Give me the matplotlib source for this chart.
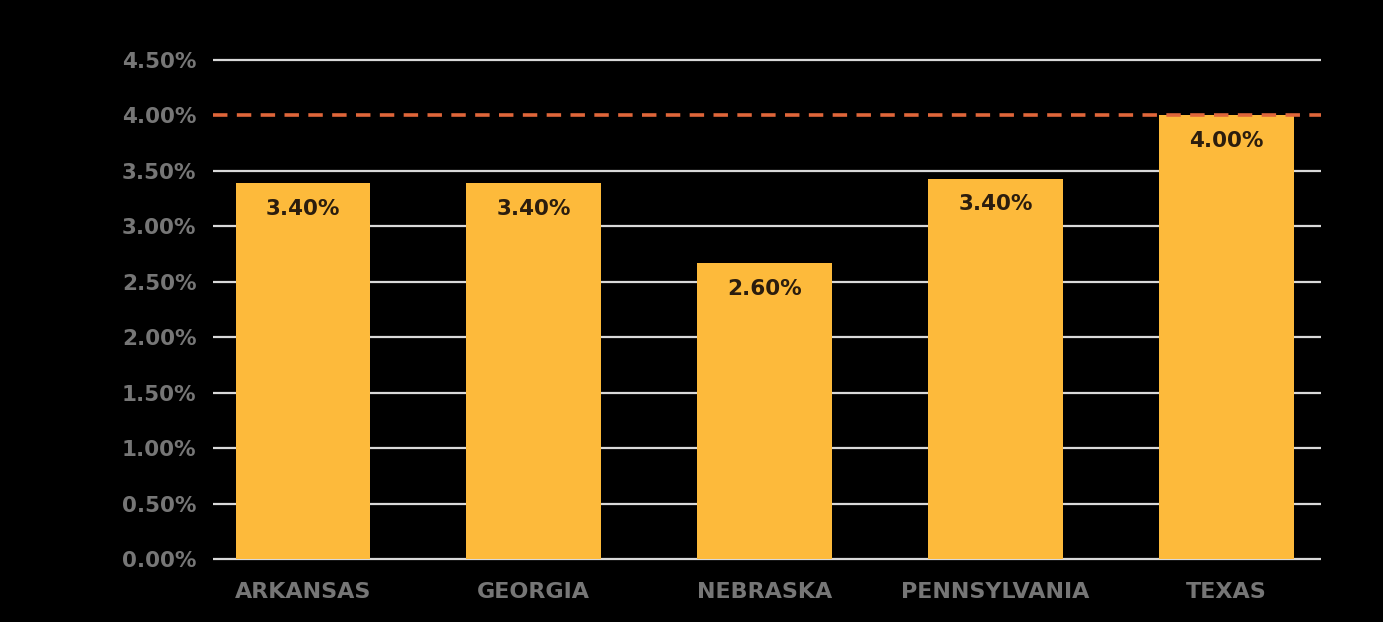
import matplotlib
matplotlib.use("Agg")
import matplotlib.pyplot as plt

# Data
states = ["ARKANSAS", "GEORGIA", "NEBRASKA", "PENNSYLVANIA", "TEXAS"]
bar_heights = [3.39, 3.39, 2.67, 3.43, 4.00]  # as drawn, in percent
value_labels = ["3.40%", "3.40%", "2.60%", "3.40%", "4.00%"]
y_ticks = [0.0, 0.5, 1.0, 1.5, 2.0, 2.5, 3.0, 3.5, 4.0, 4.5]
target_line = 4.0

BG = "black"
BAR = "#FDBA3B"
GRID = "#d9d9d9"
TICK = "#767676"
VALUE = "#2b1d0e"
DASH = "#E0663A"

fig = plt.figure(figsize=(13.83, 6.22), dpi=100, facecolor=BG)
ax = fig.add_axes([0.154, 0.0977, 0.801, 0.8148], facecolor=BG)

x = range(len(states))
ax.bar(x, bar_heights, width=0.584, color=BAR, zorder=2)

# gridlines (the 4.00% one is replaced by the dashed target line)
for v in y_ticks:
    if v != target_line:
        ax.axhline(v, color=GRID, linewidth=1.6, zorder=1)
ax.axhline(target_line, color=DASH, linewidth=2.6, linestyle=(0, (4, 2.6)), zorder=3)

for xi, h, lab in zip(x, bar_heights, value_labels):
    ax.annotate(lab, (xi, h), xytext=(0, -18.5), textcoords="offset points",
                ha="center", va="center", fontsize=15.5, fontweight="bold",
                color=VALUE, zorder=4)

ax.set_xlim(-0.39, 4.41)
ax.set_ylim(-0.02, 4.55)
ax.set_yticks(y_ticks)
ax.set_yticklabels([f"{v:.2f}%" for v in y_ticks])
ax.set_xticks(list(x))
ax.set_xticklabels(states)

ax.tick_params(axis="y", length=0, pad=12, labelsize=15.5, labelcolor=TICK)
ax.tick_params(axis="x", length=0, pad=15, labelsize=16, labelcolor=TICK)
for lbl in ax.get_xticklabels() + ax.get_yticklabels():
    lbl.set_fontweight("bold")

for s in ax.spines.values():
    s.set_visible(False)

fig.savefig("out.png", dpi=100, facecolor=BG)
